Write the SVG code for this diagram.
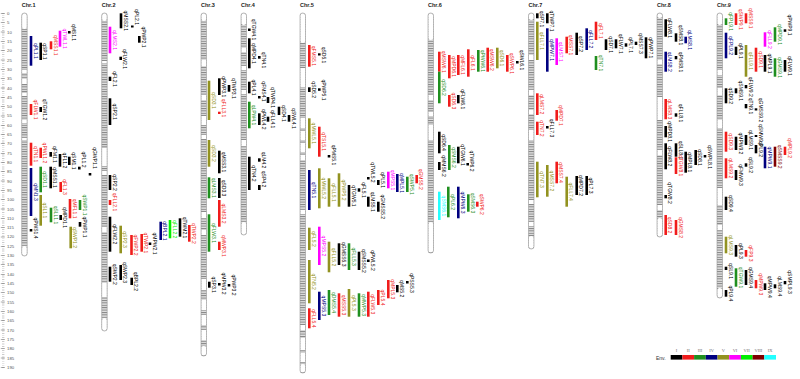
<svg xmlns="http://www.w3.org/2000/svg" width="800" height="379" viewBox="0 0 800 379">
<defs>
<pattern id="bd" width="6" height="2.4" patternUnits="userSpaceOnUse"><rect width="6" height="2.4" fill="#fff"/><rect width="6" height="1.1" fill="#808080"/><rect y="1.5" width="6" height="0.5" fill="#c4c4c4"/></pattern>
</defs>
<style>
.ct{font:bold 5.5px "Liberation Sans",Arial,sans-serif;fill:#222}
.ax{font:4.3px "Liberation Sans",Arial,sans-serif;fill:#555}
.chr .b{fill:url(#bd)}
.chr .w{fill:#fff}
.chr .o{fill:none;stroke:#999;stroke-width:0.6}
.q path{stroke-width:2.6;fill:none}
.q text{font:5px "Liberation Sans",Arial,sans-serif;text-anchor:middle}
.k path{stroke:#000}.k text{fill:#000}
.r path{stroke:#f01c1c}.r text{fill:#f01c1c}
.g path{stroke:#1f8f1f}.g text{fill:#1f8f1f}
.n path{stroke:#00007f}.n text{fill:#00007f}
.o path{stroke:#929220}.o text{fill:#929220}
.m path{stroke:#f0f}.m text{fill:#f0f}
.l path{stroke:#0e0}.l text{fill:#0e0}
.d path{stroke:#800000}.d text{fill:#800000}
.c path{stroke:#2ff}.c text{fill:#2ff}
.lg{font:4.5px "Liberation Serif","Times New Roman",serif;fill:#777;text-anchor:middle}
</style>
<rect width="800" height="379" fill="#fff"/>

<g id="axis">
<line x1="3.2" y1="13.325" x2="3.2" y2="367.5" stroke="#999" stroke-width="2.4" stroke-dasharray="0.35 1.512"/>
<line x1="2.8" y1="13.25" x2="2.8" y2="367.6" stroke="#666" stroke-width="4" stroke-dasharray="0.5 8.81"/>
<g class="ax">
<text x="7" y="15">0</text><text x="7" y="24.3">5</text><text x="7" y="33.6">10</text><text x="7" y="42.9">15</text><text x="7" y="52.2">20</text><text x="7" y="61.5">25</text><text x="7" y="70.9">30</text><text x="7" y="80.2">35</text><text x="7" y="89.5">40</text><text x="7" y="98.8">45</text><text x="7" y="108.1">50</text><text x="7" y="117.4">55</text><text x="7" y="126.7">60</text><text x="7" y="136">65</text><text x="7" y="145.3">70</text><text x="7" y="154.6">75</text><text x="7" y="164">80</text><text x="7" y="173.3">85</text><text x="7" y="182.6">90</text><text x="7" y="191.9">95</text><text x="7" y="201.2">100</text><text x="7" y="210.5">105</text><text x="7" y="219.8">110</text><text x="7" y="229.1">115</text><text x="7" y="238.4">120</text><text x="7" y="247.7">125</text><text x="7" y="257.1">130</text><text x="7" y="266.4">135</text><text x="7" y="275.7">140</text><text x="7" y="285">145</text><text x="7" y="294.3">150</text><text x="7" y="303.6">155</text><text x="7" y="312.9">160</text><text x="7" y="322.2">165</text><text x="7" y="331.5">170</text><text x="7" y="340.8">175</text><text x="7" y="350.2">180</text><text x="7" y="359.5">185</text><text x="7" y="368.8">190</text>
</g>
</g>

<g id="chr1" class="chr"><text class="ct" x="21.7" y="7">Chr.1</text>
<rect class="b" x="21.7" y="13" width="5.5" height="243" rx="2.6"/>
<rect class="w" x="22" y="13.5" width="4.9" height="15.5" rx="2.3"/><rect class="w" x="22" y="70" width="4.9" height="3"/><rect class="w" x="22" y="79" width="4.9" height="5"/><rect class="w" x="22" y="93" width="4.9" height="3"/><rect class="w" x="22" y="120" width="4.9" height="3"/><rect class="w" x="22" y="138" width="4.9" height="2"/><rect class="w" x="22" y="246" width="4.9" height="9.5" rx="2.3"/>
<rect class="o" x="21.7" y="13" width="5.5" height="243" rx="2.6"/></g>

<g id="chr2" class="chr"><text class="ct" x="101.7" y="7">Chr.2</text>
<rect class="b" x="101.7" y="13" width="5.5" height="318" rx="2.6"/>
<rect class="w" x="102" y="13.5" width="4.9" height="7.5" rx="2.3"/><rect class="w" x="102" y="61" width="4.9" height="2"/><rect class="w" x="102" y="148" width="4.9" height="18"/><rect class="w" x="102" y="171" width="4.9" height="4"/><rect class="w" x="102" y="227" width="4.9" height="5"/><rect class="w" x="102" y="283" width="4.9" height="14"/><rect class="w" x="102" y="318" width="4.9" height="12.5" rx="2.3"/>
<rect class="o" x="101.7" y="13" width="5.5" height="318" rx="2.6"/></g>

<g id="chr3" class="chr"><text class="ct" x="201" y="7">Chr.3</text>
<rect class="b" x="201" y="13" width="5.5" height="343" rx="2.6"/>
<rect class="w" x="201.3" y="13.5" width="4.9" height="7.5" rx="2.3"/><rect class="w" x="201.3" y="60" width="4.9" height="6"/><rect class="w" x="201.3" y="95" width="4.9" height="5"/><rect class="w" x="201.3" y="116" width="4.9" height="9"/><rect class="w" x="201.3" y="135" width="4.9" height="4"/><rect class="w" x="201.3" y="212" width="4.9" height="6"/><rect class="w" x="201.3" y="230" width="4.9" height="5"/><rect class="w" x="201.3" y="279" width="4.9" height="11"/><rect class="w" x="201.3" y="300" width="4.9" height="10"/><rect class="w" x="201.3" y="315" width="4.9" height="10"/><rect class="w" x="201.3" y="330" width="4.9" height="10"/><rect class="w" x="201.3" y="346" width="4.9" height="9.5" rx="2.3"/>
<rect class="o" x="201" y="13" width="5.5" height="343" rx="2.6"/></g>

<g id="chr4" class="chr"><text class="ct" x="241" y="7">Chr.4</text>
<rect class="b" x="241" y="13" width="5.5" height="222" rx="2.6"/>
<rect class="w" x="241.3" y="13.5" width="4.9" height="11.5" rx="2.3"/><rect class="w" x="241.3" y="48" width="4.9" height="4"/><rect class="w" x="241.3" y="66" width="4.9" height="4"/><rect class="w" x="241.3" y="90" width="4.9" height="4"/><rect class="w" x="241.3" y="140" width="4.9" height="6"/><rect class="w" x="241.3" y="222" width="4.9" height="12.5" rx="2.3"/>
<rect class="o" x="241" y="13" width="5.5" height="222" rx="2.6"/></g>

<g id="chr5" class="chr"><text class="ct" x="300" y="7">Chr.5</text>
<rect class="b" x="300" y="13" width="5.5" height="360" rx="2.6"/>
<rect class="w" x="300.3" y="13.5" width="4.9" height="29.5" rx="2.3"/><rect class="w" x="300.3" y="68" width="4.9" height="19"/><rect class="w" x="300.3" y="118" width="4.9" height="10"/><rect class="w" x="300.3" y="131" width="4.9" height="9"/><rect class="w" x="300.3" y="143" width="4.9" height="9"/><rect class="w" x="300.3" y="155" width="4.9" height="5"/><rect class="w" x="300.3" y="210" width="4.9" height="4"/><rect class="w" x="300.3" y="325" width="4.9" height="5"/><rect class="w" x="300.3" y="338" width="4.9" height="12"/><rect class="w" x="300.3" y="353" width="4.9" height="9"/><rect class="w" x="300.3" y="364" width="4.9" height="8.5" rx="2.3"/>
<rect class="o" x="300" y="13" width="5.5" height="360" rx="2.6"/></g>

<g id="chr6" class="chr"><text class="ct" x="428" y="7">Chr.6</text>
<rect class="b" x="428" y="13" width="5.5" height="240" rx="2.6"/>
<rect class="w" x="428.3" y="13.5" width="4.9" height="26.5" rx="2.3"/><rect class="w" x="428.3" y="95" width="4.9" height="5"/><rect class="w" x="428.3" y="112" width="4.9" height="4"/><rect class="w" x="428.3" y="125" width="4.9" height="15"/><rect class="w" x="428.3" y="222" width="4.9" height="30.5" rx="2.3"/>
<rect class="o" x="428" y="13" width="5.5" height="240" rx="2.6"/></g>

<g id="chr7" class="chr"><text class="ct" x="528.5" y="7">Chr.7</text>
<rect class="b" x="528.5" y="13" width="5.5" height="236" rx="2.6"/>
<rect class="w" x="528.8" y="13.5" width="4.9" height="6.5" rx="2.3"/><rect class="w" x="528.8" y="55" width="4.9" height="5"/><rect class="w" x="528.8" y="90" width="4.9" height="5"/><rect class="w" x="528.8" y="110" width="4.9" height="4"/><rect class="w" x="528.8" y="130" width="4.9" height="10"/><rect class="w" x="528.8" y="200" width="4.9" height="4"/><rect class="w" x="528.8" y="222" width="4.9" height="4"/><rect class="w" x="528.8" y="236" width="4.9" height="12.5" rx="2.3"/>
<rect class="o" x="528.5" y="13" width="5.5" height="236" rx="2.6"/></g>

<g id="chr8" class="chr"><text class="ct" x="657" y="7">Chr.8</text>
<rect class="b" x="657" y="13" width="5.5" height="224" rx="2.6"/>
<rect class="w" x="657.3" y="13.5" width="4.9" height="4.5" rx="2.3"/><rect class="w" x="657.3" y="60" width="4.9" height="4"/><rect class="w" x="657.3" y="97" width="4.9" height="23"/><rect class="w" x="657.3" y="150" width="4.9" height="5"/><rect class="w" x="657.3" y="205" width="4.9" height="5"/><rect class="w" x="657.3" y="218" width="4.9" height="18.5" rx="2.3"/>
<rect class="o" x="657" y="13" width="5.5" height="224" rx="2.6"/></g>

<g id="chr9" class="chr"><text class="ct" x="717" y="7">Chr.9</text>
<rect class="b" x="717" y="13" width="5.5" height="285" rx="2.6"/>
<rect class="w" x="717.3" y="13.5" width="4.9" height="11.5" rx="2.3"/><rect class="w" x="717.3" y="70" width="4.9" height="5"/><rect class="w" x="717.3" y="88" width="4.9" height="7"/><rect class="w" x="717.3" y="120" width="4.9" height="8"/><rect class="w" x="717.3" y="188" width="4.9" height="17"/><rect class="w" x="717.3" y="225" width="4.9" height="5"/><rect class="w" x="717.3" y="288" width="4.9" height="9.5" rx="2.3"/>
<rect class="o" x="717" y="13" width="5.5" height="285" rx="2.6"/></g>

<g id="qtls">
<g id="q1" class="q n"><path d="M31 36V65.7"/><text transform="translate(33.5 50.9)rotate(90)">qPL1.1</text></g>
<g id="q2" class="q k"><path d="M40.7 42.7V60"/><text transform="translate(43.2 51.4)rotate(90)">qSP1.1</text></g>
<g id="q3" class="q r"><path d="M51 41.3V49.3"/><text transform="translate(53.5 45.3)rotate(90)">qMSS1.1</text></g>
<g id="q4" class="q m"><path d="M60 30.7V46.7"/><text transform="translate(62.5 38.7)rotate(90)">qTWL1.1</text></g>
<g id="q5" class="q k"><path d="M69.3 31V33.5"/><text transform="translate(71.8 32.5)rotate(90)">qMS1.1</text></g>
<g id="q6" class="q r"><path d="M31 104V115"/><text transform="translate(33.5 109.5)rotate(90)">qFLW1.1</text></g>
<g id="q7" class="q k"><path d="M40.7 107V112"/><text transform="translate(43.2 109.5)rotate(90)">qTGW1.2</text></g>
<g id="q8" class="q r"><path d="M31 142.7V165.7"/><text transform="translate(33.5 154.2)rotate(90)">qTN1.1</text></g>
<g id="q9" class="q r"><path d="M40.7 147.7V158"/><text transform="translate(43.2 152.9)rotate(90)">qPWL1.2</text></g>
<g id="q10" class="q k"><path d="M50.7 152V156.7"/><text transform="translate(53.2 154.4)rotate(90)">qFM1.1</text></g>
<g id="q11" class="q k"><path d="M60 154V166.7"/><text transform="translate(62.5 160.4)rotate(90)">qFL1.2</text></g>
<g id="q12" class="q k"><path d="M69.3 156.7V165"/><text transform="translate(71.8 160.9)rotate(90)">qSM1.1</text></g>
<g id="q13" class="q k"><path d="M79.3 166.7V169.5"/><text transform="translate(81.8 159.5)rotate(90)">qPL1.2</text></g>
<g id="q14" class="q k"><path d="M90 173V175.5"/><text transform="translate(92.5 158)rotate(90)">qGWP1.1</text></g>
<g id="q15" class="q n"><path d="M31 168V216"/><text transform="translate(33.5 192)rotate(90)">qMN1.3</text></g>
<g id="q16" class="q g"><path d="M40.7 166.7V192.3"/><text transform="translate(43.2 179.5)rotate(90)">qSD1.1</text></g>
<g id="q17" class="q o"><path d="M40.7 195V225.7"/><text transform="translate(43.2 210.4)rotate(90)">qSL1.1</text></g>
<g id="q18" class="q k"><path d="M50.7 166.7V188.3"/><text transform="translate(53.2 177.5)rotate(90)">qMSS1.1</text></g>
<g id="q19" class="q r"><path d="M60.7 182V192"/><text transform="translate(63.2 187)rotate(90)">qFL1.3</text></g>
<g id="q20" class="q g"><path d="M51 207.7V222.3"/><text transform="translate(53.5 215)rotate(90)">qSLL1.1</text></g>
<g id="q21" class="q r"><path d="M70 199V218.3"/><text transform="translate(72.5 208.7)rotate(90)">qMFL1.1</text></g>
<g id="q22" class="q k"><path d="M60.7 215V220"/><text transform="translate(63.2 217.5)rotate(90)">qMPD1.1</text></g>
<g id="q23" class="q g"><path d="M80 200V210"/><text transform="translate(82.5 205)rotate(90)">qSWP1.1</text></g>
<g id="q24" class="q k"><path d="M80 222V226.7"/><text transform="translate(82.5 227)rotate(90)">qPWP1.1</text></g>
<g id="q25" class="q o"><path d="M70.7 226.7V248.3"/><text transform="translate(73.2 237.5)rotate(90)">qSWP1.2</text></g>
<g id="q26" class="q k"><path d="M31 229V231.5"/><text transform="translate(33.5 228)rotate(90)">qPWS1.4</text></g>

<g id="q27" class="q k"><path d="M121 13.3V28.3"/><text transform="translate(123.5 20.8)rotate(90)">qMSS2.1</text></g>
<g id="q28" class="q k"><path d="M132.3 25.5V27.5"/><text transform="translate(134.8 17)rotate(90)">qPL2.1</text></g>
<g id="q29" class="q k"><path d="M139.3 36V42.7"/><text transform="translate(141.8 37)rotate(90)">qPWP2.1</text></g>
<g id="q30" class="q m"><path d="M110 26.7V53.3"/><text transform="translate(112.5 40)rotate(90)">qLMS2.1</text></g>
<g id="q31" class="q k"><path d="M120.7 56.7V60"/><text transform="translate(123.2 59)rotate(90)">qFLW2.1</text></g>
<g id="q32" class="q k"><path d="M110 76.7V81"/><text transform="translate(112.5 79)rotate(90)">qFL2.1</text></g>
<g id="q33" class="q k"><path d="M110 98.3V125"/><text transform="translate(112.5 111.7)rotate(90)">qSP2.1</text></g>
<g id="q34" class="q k"><path d="M110 175V190"/><text transform="translate(112.5 182.5)rotate(90)">qSP2.2</text></g>
<g id="q35" class="q r"><path d="M110 200V205"/><text transform="translate(112.5 202)rotate(90)">qFLL2.1</text></g>
<g id="q36" class="q k"><path d="M110 216.7V251.7"/><text transform="translate(112.5 234.2)rotate(90)">qFLW2.2</text></g>
<g id="q37" class="q o"><path d="M120.7 225.7V253.3"/><text transform="translate(123.2 239.5)rotate(90)">qSP2.3</text></g>
<g id="q38" class="q r"><path d="M131.5 235V255"/><text transform="translate(134 245)rotate(90)">qFWP2.2</text></g>
<g id="q39" class="q r"><path d="M141.7 234V251.7"/><text transform="translate(144.2 242.9)rotate(90)">qTWP2.1</text></g>
<g id="q40" class="q k"><path d="M150 242.5V245"/><text transform="translate(152.5 243.5)rotate(90)">qMPW2.1</text></g>
<g id="q41" class="q n"><path d="M160.7 221.7V240"/><text transform="translate(163.2 230.9)rotate(90)">qBPL2.1</text></g>
<g id="q42" class="q l"><path d="M170 220V238.3"/><text transform="translate(172.5 229.2)rotate(90)">qFLL2.2</text></g>
<g id="q43" class="q k"><path d="M180 218.3V236.7"/><text transform="translate(182.5 227.5)rotate(90)">qTWM2.1</text></g>
<g id="q44" class="q r"><path d="M189.3 225V241.7"/><text transform="translate(191.8 233.4)rotate(90)">qTWP2.2</text></g>
<g id="q45" class="q k"><path d="M110 266.7V281.7"/><text transform="translate(112.5 274.2)rotate(90)">qSWP2.2</text></g>
<g id="q46" class="q k"><path d="M120.7 265V280"/><text transform="translate(123.2 272.5)rotate(90)">qSWP2.3</text></g>
<g id="q47" class="q k"><path d="M131.7 277.7V285"/><text transform="translate(134.2 281.4)rotate(90)">qBPL2.2</text></g>

<g id="q48" class="q o"><path d="M209 80.7V120"/><text transform="translate(211.5 100.4)rotate(90)">qSD3.1</text></g>
<g id="q49" class="q k"><path d="M219.3 78.3V95"/><text transform="translate(221.8 86.7)rotate(90)">qPWP3.1</text></g>
<g id="q50" class="q k"><path d="M229 85V91.7"/><text transform="translate(231.5 88.4)rotate(90)">qTWP3.1</text></g>
<g id="q51" class="q r"><path d="M219.3 111.7V114"/><text transform="translate(221.8 108)rotate(90)">qFLL3.1</text></g>
<g id="q52" class="q o"><path d="M209 140V166.7"/><text transform="translate(211.5 153.4)rotate(90)">qSD3.2</text></g>
<g id="q53" class="q k"><path d="M219.3 150.7V173.3"/><text transform="translate(221.8 162)rotate(90)">qMSS3.1</text></g>
<g id="q54" class="q g"><path d="M209 177.3V198.3"/><text transform="translate(211.5 187.8)rotate(90)">qLMS3.1</text></g>
<g id="q55" class="q k"><path d="M219.3 178V198"/><text transform="translate(221.8 188)rotate(90)">qSD3.3</text></g>
<g id="q56" class="q r"><path d="M219.3 200V226.7"/><text transform="translate(221.8 213.4)rotate(90)">qLMS3.2</text></g>
<g id="q57" class="q g"><path d="M209 214.3V251.7"/><text transform="translate(211.5 233)rotate(90)">qFLW3.1</text></g>
<g id="q58" class="q r"><path d="M219.3 241.7V250"/><text transform="translate(221.8 245.9)rotate(90)">qMWP3.1</text></g>
<g id="q59" class="q k"><path d="M209.3 281.7V287.7"/><text transform="translate(211.8 284.7)rotate(90)">qSP3.1</text></g>
<g id="q60" class="q k"><path d="M219.3 283V285.5"/><text transform="translate(221.8 283.5)rotate(90)">qMPW3.2</text></g>
<g id="q61" class="q k"><path d="M229 284V286.5"/><text transform="translate(231.5 285)rotate(90)">qPWP3.2</text></g>

<g id="q62" class="q k"><path d="M249.3 28.5V31"/><text transform="translate(251.8 29.5)rotate(90)">qTGW4.1</text></g>
<g id="q63" class="q k"><path d="M249.3 38.3V68.3"/><text transform="translate(251.8 53.3)rotate(90)">qMPD4.1</text></g>
<g id="q64" class="q k"><path d="M259.3 56V58.7"/><text transform="translate(261.8 60)rotate(90)">qTN4.1</text></g>
<g id="q65" class="q k"><path d="M249.3 81.7V93.3"/><text transform="translate(251.8 87.5)rotate(90)">qPL4.1</text></g>
<g id="q66" class="q k"><path d="M259.3 96V98.5"/><text transform="translate(261.8 91.5)rotate(90)">qFMS4.1</text></g>
<g id="q67" class="q k"><path d="M268 97V103"/><text transform="translate(270.5 97.5)rotate(90)">qTWP4.1</text></g>
<g id="q68" class="q k"><path d="M268 116.7V121.7"/><text transform="translate(270.5 119.2)rotate(90)">qFLL4.1</text></g>
<g id="q69" class="q k"><path d="M279 106.7V115"/><text transform="translate(281.5 113.4)rotate(90)">qSD4.1</text></g>
<g id="q70" class="q k"><path d="M289 115V121.7"/><text transform="translate(291.5 118.4)rotate(90)">qSWL4.1</text></g>
<g id="q71" class="q g"><path d="M249.3 101.7V128.3"/><text transform="translate(251.8 115)rotate(90)">qLPW4.1</text></g>
<g id="q72" class="q k"><path d="M259.3 113.3V125"/><text transform="translate(261.8 119.2)rotate(90)">qPWL4.2</text></g>
<g id="q73" class="q k"><path d="M259.3 158.3V161.7"/><text transform="translate(261.8 160)rotate(90)">qLM4.2</text></g>
<g id="q74" class="q k"><path d="M249.3 156.7V190"/><text transform="translate(251.8 173.4)rotate(90)">qTN4.2</text></g>
<g id="q75" class="q k"><path d="M259.3 185V190"/><text transform="translate(261.8 179)rotate(90)">qSP4.2</text></g>

<g id="q76" class="q r"><path d="M309.3 45V66.7"/><text transform="translate(311.8 55.9)rotate(90)">qFMS5.1</text></g>
<g id="q77" class="q k"><path d="M319.3 53.3V55.5"/><text transform="translate(321.8 55)rotate(90)">qSD5.1</text></g>
<g id="q78" class="q k"><path d="M309.3 87.3V92"/><text transform="translate(311.8 89.7)rotate(90)">qSD5.2</text></g>
<g id="q79" class="q k"><path d="M319.3 88.3V90.8"/><text transform="translate(321.8 90)rotate(90)">qPWP5.1</text></g>
<g id="q80" class="q o"><path d="M309.3 118.3V148.3"/><text transform="translate(311.8 133.3)rotate(90)">qMWL5.1</text></g>
<g id="q81" class="q r"><path d="M319.3 126.7V156.7"/><text transform="translate(321.8 141.7)rotate(90)">qTSL5.1</text></g>
<g id="q82" class="q k"><path d="M329 155V157.5"/><text transform="translate(331.5 155)rotate(90)">qPMS5.1</text></g>
<g id="q83" class="q n"><path d="M309.3 170V210"/><text transform="translate(311.8 190)rotate(90)">qTN5.1</text></g>
<g id="q84" class="q o"><path d="M319.3 168.3V208.3"/><text transform="translate(321.8 188.3)rotate(90)">qMWL5.2</text></g>
<g id="q85" class="q o"><path d="M329 178.3V206.7"/><text transform="translate(331.5 192.5)rotate(90)">qFLL5.1</text></g>
<g id="q86" class="q o"><path d="M339 173.3V206.7"/><text transform="translate(341.5 190)rotate(90)">qPWP5.2</text></g>
<g id="q87" class="q k"><path d="M349 185V206.7"/><text transform="translate(351.5 195.9)rotate(90)">qTGW5.1</text></g>
<g id="q88" class="q k"><path d="M359 188.3V191.7"/><text transform="translate(361.5 190)rotate(90)">qFL5.1</text></g>
<g id="q89" class="q k"><path d="M368.3 177V179.5"/><text transform="translate(370.8 172.5)rotate(90)">qTWL5.2</text></g>
<g id="q90" class="q k"><path d="M368.3 196.7V206.7"/><text transform="translate(370.8 201.7)rotate(90)">qLMS5.1</text></g>
<g id="q91" class="q k"><path d="M378.3 180V185"/><text transform="translate(380.8 180)rotate(90)">qPL5.1</text></g>
<g id="q92" class="q k"><path d="M378.3 201.7V211.7"/><text transform="translate(380.8 206.7)rotate(90)">qGMSS5.2</text></g>
<g id="q93" class="q m"><path d="M388.3 171.7V188.3"/><text transform="translate(390.8 180)rotate(90)">qMPS5.1</text></g>
<g id="q94" class="q n"><path d="M397.3 174V192"/><text transform="translate(399.8 183)rotate(90)">qMPL5.1</text></g>
<g id="q95" class="q g"><path d="M407.3 176.7V192"/><text transform="translate(409.8 184.3)rotate(90)">qSWP5.1</text></g>
<g id="q96" class="q r"><path d="M416.7 175V183.3"/><text transform="translate(419.2 179.2)rotate(90)">qGMS5.2</text></g>
<g id="q97" class="q o"><path d="M309.3 227.7V250"/><text transform="translate(311.8 238.9)rotate(90)">qFL5.2</text></g>
<g id="q98" class="q m"><path d="M319.3 226.7V265"/><text transform="translate(321.8 245.9)rotate(90)">qMPS5.2</text></g>
<g id="q99" class="q o"><path d="M329 241.7V272.3"/><text transform="translate(331.5 257)rotate(90)">qFLL5.2</text></g>
<g id="q100" class="q k"><path d="M339 243.3V265"/><text transform="translate(341.5 254.2)rotate(90)">qGMSS5.3</text></g>
<g id="q101" class="q g"><path d="M349 243.3V270"/><text transform="translate(351.5 256.7)rotate(90)">qFLL5.3</text></g>
<g id="q102" class="q k"><path d="M359 251.7V270"/><text transform="translate(361.5 260.9)rotate(90)">qSMSS5.2</text></g>
<g id="q103" class="q k"><path d="M368.3 259.5V262"/><text transform="translate(370.8 260.5)rotate(90)">qPWL5.2</text></g>
<g id="q104" class="q o"><path d="M309.3 260V303.3"/><text transform="translate(311.8 281.7)rotate(90)">qTN5.2</text></g>
<g id="q105" class="q r"><path d="M309.3 308.3V328.3"/><text transform="translate(311.8 318.3)rotate(90)">qFLL5.4</text></g>
<g id="q106" class="q n"><path d="M319.3 291.7V320"/><text transform="translate(321.8 305.9)rotate(90)">qMPS5.3</text></g>
<g id="q107" class="q g"><path d="M329 290V315"/><text transform="translate(331.5 302.5)rotate(90)">qDMS5.4</text></g>
<g id="q108" class="q r"><path d="M339 293.3V316.7"/><text transform="translate(341.5 305)rotate(90)">qMSS5.3</text></g>
<g id="q109" class="q o"><path d="M349 289V316.7"/><text transform="translate(351.5 302.9)rotate(90)">qPL5.3</text></g>
<g id="q110" class="q g"><path d="M359 293.3V316.7"/><text transform="translate(361.5 305)rotate(90)">qMWP5.3</text></g>
<g id="q111" class="q r"><path d="M368.3 291.7V316.7"/><text transform="translate(370.8 304.2)rotate(90)">qFLW5.3</text></g>
<g id="q112" class="q r"><path d="M378.3 290V305"/><text transform="translate(380.8 297.5)rotate(90)">qPL5.4</text></g>
<g id="q113" class="q r"><path d="M388.3 280V298.3"/><text transform="translate(390.8 289.2)rotate(90)">qMPL5.3</text></g>
<g id="q114" class="q k"><path d="M397.3 285V292.3"/><text transform="translate(399.8 288.7)rotate(90)">qMS5.2</text></g>
<g id="q115" class="q k"><path d="M407.3 281V283.5"/><text transform="translate(409.8 283)rotate(90)">qPSS5.3</text></g>

<g id="q116" class="q r"><path d="M439.3 51.7V71.7"/><text transform="translate(441.8 61.7)rotate(90)">qMSW6.1</text></g>
<g id="q117" class="q r"><path d="M449.3 55V78.3"/><text transform="translate(451.8 66.7)rotate(90)">qMPD6.1</text></g>
<g id="q118" class="q r"><path d="M458.3 55V75"/><text transform="translate(460.8 65)rotate(90)">qMFL6.1</text></g>
<g id="q119" class="q r"><path d="M468.3 49.3V76.7"/><text transform="translate(470.8 63)rotate(90)">qFL6.1</text></g>
<g id="q120" class="q g"><path d="M478.3 50V71.7"/><text transform="translate(480.8 60.9)rotate(90)">qPWW6.1</text></g>
<g id="q121" class="q r"><path d="M487.7 47.7V71.7"/><text transform="translate(490.2 59.7)rotate(90)">qMSW6.2</text></g>
<g id="q122" class="q o"><path d="M497.3 47.7V68.3"/><text transform="translate(499.8 58)rotate(90)">qSD6.1</text></g>
<g id="q123" class="q r"><path d="M507.3 55V71.7"/><text transform="translate(509.8 63.4)rotate(90)">qSWP6.1</text></g>
<g id="q124" class="q k"><path d="M517.3 61V63.5"/><text transform="translate(519.8 60)rotate(90)">qSWL6.1</text></g>
<g id="q125" class="q g"><path d="M439.3 71.7V103.3"/><text transform="translate(441.8 87.5)rotate(90)">qSD6.2</text></g>
<g id="q126" class="q r"><path d="M449.3 95V106.7"/><text transform="translate(451.8 100.9)rotate(90)">qSD6.3</text></g>
<g id="q127" class="q k"><path d="M458.3 95V103.3"/><text transform="translate(460.8 99.2)rotate(90)">qFLW6.1</text></g>
<g id="q128" class="q k"><path d="M439.3 131.7V153.3"/><text transform="translate(441.8 142.5)rotate(90)">qSD6.4</text></g>
<g id="q129" class="q g"><path d="M449.3 145V170"/><text transform="translate(451.8 157.5)rotate(90)">qSMS6.2</text></g>
<g id="q130" class="q k"><path d="M458.3 146.7V163.3"/><text transform="translate(460.8 155)rotate(90)">qTGW6.1</text></g>
<g id="q131" class="q k"><path d="M467.7 163V165.5"/><text transform="translate(470.2 161)rotate(90)">qTWP6.2</text></g>
<g id="q132" class="q k"><path d="M439.3 162V170"/><text transform="translate(441.8 166)rotate(90)">qMMS6.2</text></g>
<g id="q133" class="q c"><path d="M439.3 191.7V220"/><text transform="translate(441.8 205.9)rotate(90)">qSMS6.1</text></g>
<g id="q134" class="q g"><path d="M448.3 186.7V217.3"/><text transform="translate(450.8 202)rotate(90)">qPL6.2</text></g>
<g id="q135" class="q n"><path d="M458.3 186.7V218.3"/><text transform="translate(460.8 202.5)rotate(90)">qMPW6.3</text></g>
<g id="q136" class="q g"><path d="M468.3 194.3V211.7"/><text transform="translate(470.8 203)rotate(90)">qSMS6.3</text></g>
<g id="q137" class="q r"><path d="M477.3 201.7V206.7"/><text transform="translate(479.8 204.2)rotate(90)">qSWP6.2</text></g>

<g id="q138" class="q k"><path d="M537.3 13.3V18.3"/><text transform="translate(539.8 19)rotate(90)">qSP7.1</text></g>
<g id="q139" class="q k"><path d="M547.3 13.3V23.3"/><text transform="translate(549.8 21)rotate(90)">qTWP7.1</text></g>
<g id="q140" class="q o"><path d="M537.3 21.7V60"/><text transform="translate(539.8 40.9)rotate(90)">qFLL7.1</text></g>
<g id="q141" class="q n"><path d="M547.3 28.3V71.7"/><text transform="translate(549.8 50)rotate(90)">qMPW7.1</text></g>
<g id="q142" class="q m"><path d="M556.7 38.3V65"/><text transform="translate(559.2 51.7)rotate(90)">qLMS7.1</text></g>
<g id="q143" class="q r"><path d="M566.7 36.7V53.3"/><text transform="translate(569.2 45)rotate(90)">qMSS7.1</text></g>
<g id="q144" class="q k"><path d="M576.7 32.7V55"/><text transform="translate(579.2 43.9)rotate(90)">qSP7.2</text></g>
<g id="q145" class="q n"><path d="M586.7 28.3V50"/><text transform="translate(589.2 39.2)rotate(90)">qFLL7.2</text></g>
<g id="q146" class="q r"><path d="M596 21.7V40"/><text transform="translate(598.5 30.9)rotate(90)">qFL7.1</text></g>
<g id="q147" class="q k"><path d="M606 39.3V50"/><text transform="translate(608.5 44.7)rotate(90)">qSD7.1</text></g>
<g id="q148" class="q k"><path d="M616 39.3V48.3"/><text transform="translate(618.5 43.8)rotate(90)">qFLW7.1</text></g>
<g id="q149" class="q k"><path d="M626 43.3V46.7"/><text transform="translate(628.5 45)rotate(90)">qPL7.1</text></g>
<g id="q150" class="q k"><path d="M636 41.7V45"/><text transform="translate(638.5 43.4)rotate(90)">qMSS7.3</text></g>
<g id="q151" class="q k"><path d="M646 37.3V58.3"/><text transform="translate(648.5 47.8)rotate(90)">qPWP7.1</text></g>
<g id="q152" class="q g"><path d="M596 56V70"/><text transform="translate(598.5 63)rotate(90)">qTN7.1</text></g>
<g id="q153" class="q r"><path d="M537.3 93.3V115"/><text transform="translate(539.8 104.2)rotate(90)">qLMS7.2</text></g>
<g id="q154" class="q r"><path d="M556.7 110V120.7"/><text transform="translate(559.2 115.4)rotate(90)">qMPD7.1</text></g>
<g id="q155" class="q r"><path d="M537.3 121.7V135"/><text transform="translate(539.8 128.4)rotate(90)">qTN7.2</text></g>
<g id="q156" class="q k"><path d="M547.3 126V128.5"/><text transform="translate(549.8 128)rotate(90)">qFLL7.3</text></g>
<g id="q157" class="q o"><path d="M537.3 161.7V197.3"/><text transform="translate(539.8 179.5)rotate(90)">qTN7.3</text></g>
<g id="q158" class="q o"><path d="M547.3 165V196.7"/><text transform="translate(549.8 180.9)rotate(90)">qMSS7.2</text></g>
<g id="q159" class="q r"><path d="M556.7 161.7V183.3"/><text transform="translate(559.2 172.5)rotate(90)">qMSS7.4</text></g>
<g id="q160" class="q o"><path d="M566.7 176.7V206.7"/><text transform="translate(569.2 191.7)rotate(90)">qFLL7.4</text></g>
<g id="q161" class="q k"><path d="M576.7 176V195"/><text transform="translate(579.2 185.5)rotate(90)">qMPD7.2</text></g>
<g id="q162" class="q k"><path d="M586.7 176V195"/><text transform="translate(589.2 185.5)rotate(90)">qPL7.3</text></g>

<g id="q163" class="q k"><path d="M665.7 19.3V36.7"/><text transform="translate(668.2 28)rotate(90)">qFLW8.1</text></g>
<g id="q164" class="q k"><path d="M676 33.3V41.7"/><text transform="translate(678.5 35)rotate(90)">qSMS8.1</text></g>
<g id="q165" class="q n"><path d="M685.7 36.7V43.3"/><text transform="translate(688.2 40)rotate(90)">qLMS8.1</text></g>
<g id="q166" class="q n"><path d="M665.7 51.7V71.7"/><text transform="translate(668.2 61.7)rotate(90)">qLMS8.2</text></g>
<g id="q167" class="q k"><path d="M676 56V59.3"/><text transform="translate(678.5 62)rotate(90)">qPMS8.1</text></g>
<g id="q168" class="q r"><path d="M665.7 99V119.3"/><text transform="translate(668.2 109.2)rotate(90)">qLMS8.3</text></g>
<g id="q169" class="q k"><path d="M676 113.3V116.7"/><text transform="translate(678.5 113)rotate(90)">qFLL8.1</text></g>
<g id="q170" class="q k"><path d="M665.7 126V137.3"/><text transform="translate(668.2 131.7)rotate(90)">qMPD8.1</text></g>
<g id="q171" class="q k"><path d="M665.7 143.3V169.3"/><text transform="translate(668.2 156.3)rotate(90)">qFLW8.2</text></g>
<g id="q172" class="q k"><path d="M676 143.3V156.7"/><text transform="translate(678.5 150)rotate(90)">qSLL8.1</text></g>
<g id="q173" class="q r"><path d="M676 157.3V174"/><text transform="translate(678.5 165.7)rotate(90)">qTGW8.1</text></g>
<g id="q174" class="q k"><path d="M685.7 151.7V172.7"/><text transform="translate(688.2 162.2)rotate(90)">qMPL8.1</text></g>
<g id="q175" class="q k"><path d="M695.7 150V165"/><text transform="translate(698.2 157.5)rotate(90)">qSD8.1</text></g>
<g id="q176" class="q k"><path d="M705 155V157.5"/><text transform="translate(707.5 157)rotate(90)">qSWPL8.1</text></g>
<g id="q177" class="q k"><path d="M665.7 195V198.3"/><text transform="translate(668.2 193)rotate(90)">qTGW8.2</text></g>
<g id="q178" class="q r"><path d="M665.7 215V235"/><text transform="translate(668.2 225)rotate(90)">qSD8.2</text></g>
<g id="q179" class="q r"><path d="M676 220V235"/><text transform="translate(678.5 227.5)rotate(90)">qGMS8.2</text></g>

<g id="q180" class="q g"><path d="M726 18.3V25"/><text transform="translate(728.5 21.7)rotate(90)">qFPL9.1</text></g>
<g id="q181" class="q r"><path d="M736 13.3V25"/><text transform="translate(738.5 19.2)rotate(90)">qSWP9.1</text></g>
<g id="q182" class="q r"><path d="M746 13.3V23.3"/><text transform="translate(748.5 18.3)rotate(90)">qMSS9.1</text></g>
<g id="q183" class="q n"><path d="M726 32.7V58.3"/><text transform="translate(728.5 45.5)rotate(90)">qFPL9.2</text></g>
<g id="q184" class="q k"><path d="M736 46.7V55"/><text transform="translate(738.5 50.9)rotate(90)">qPL9.1</text></g>
<g id="q185" class="q o"><path d="M746 45V76.7"/><text transform="translate(748.5 60.9)rotate(90)">qFLL9.1</text></g>
<g id="q186" class="q r"><path d="M756 47.7V71.7"/><text transform="translate(758.5 59.7)rotate(90)">qSD9.1</text></g>
<g id="q187" class="q m"><path d="M765 32.3V46.7"/><text transform="translate(767.5 39.5)rotate(90)">qFLL9.2</text></g>
<g id="q188" class="q g"><path d="M775 27.3V41.7"/><text transform="translate(777.5 34.5)rotate(90)">qMPD9.1</text></g>
<g id="q189" class="q k"><path d="M785 29.3V31.8"/><text transform="translate(787.5 25)rotate(90)">qPWP9.1</text></g>
<g id="q190" class="q k"><path d="M765 55V71.7"/><text transform="translate(767.5 63.4)rotate(90)">qMPL9.1</text></g>
<g id="q191" class="q g"><path d="M775 58.3V76.7"/><text transform="translate(777.5 67.5)rotate(90)">qGMS9.1</text></g>
<g id="q192" class="q k"><path d="M785 60V71.7"/><text transform="translate(787.5 65.9)rotate(90)">qFLW9.1</text></g>
<g id="q193" class="q k"><path d="M726 88.3V103.3"/><text transform="translate(728.5 95.8)rotate(90)">qSD9.2</text></g>
<g id="q194" class="q k"><path d="M736 88.3V93.3"/><text transform="translate(738.5 90.8)rotate(90)">qSMS9.1</text></g>
<g id="q195" class="q k"><path d="M746 85V88.3"/><text transform="translate(748.5 86.7)rotate(90)">qFLW9.2</text></g>
<g id="q196" class="q k"><path d="M746 104V108.3"/><text transform="translate(748.5 106)rotate(90)">qTN9.1</text></g>
<g id="q197" class="q k"><path d="M756 108.3V110.5"/><text transform="translate(758.5 110)rotate(90)">qGMSS9.2</text></g>
<g id="q198" class="q k"><path d="M756 135V137"/><text transform="translate(758.5 135)rotate(90)">qSMW9.3</text></g>
<g id="q199" class="q r"><path d="M726 131.7V151.7"/><text transform="translate(728.5 141.7)rotate(90)">qSD9.3</text></g>
<g id="q200" class="q k"><path d="M736 136.7V150"/><text transform="translate(738.5 143.4)rotate(90)">qMPW9.2</text></g>
<g id="q201" class="q k"><path d="M746 135V145"/><text transform="translate(748.5 140)rotate(90)">qLMS9.1</text></g>
<g id="q202" class="q k"><path d="M756 145V153.3"/><text transform="translate(758.5 149)rotate(90)">qPL9.2</text></g>
<g id="q203" class="q n"><path d="M765 146.7V168.3"/><text transform="translate(767.5 157.5)rotate(90)">qMPW9.1</text></g>
<g id="q204" class="q d"><path d="M775 146.7V166.7"/><text transform="translate(777.5 156.7)rotate(90)">qSMSS9.2</text></g>
<g id="q205" class="q r"><path d="M785 146.7V155"/><text transform="translate(787.5 148)rotate(90)">qMPL9.2</text></g>
<g id="q206" class="q r"><path d="M726 158.3V178.3"/><text transform="translate(728.5 168.3)rotate(90)">qLMS9.2</text></g>
<g id="q207" class="q k"><path d="M736 170V180"/><text transform="translate(738.5 175)rotate(90)">qFMW9.3</text></g>
<g id="q208" class="q k"><path d="M746 163.3V166.7"/><text transform="translate(748.5 165)rotate(90)">qSL9.2</text></g>
<g id="q209" class="q k"><path d="M726 196.7V210"/><text transform="translate(728.5 203.4)rotate(90)">qSD9.4</text></g>
<g id="q210" class="q o"><path d="M726 236.7V253.3"/><text transform="translate(728.5 245)rotate(90)">qLMS9.3</text></g>
<g id="q211" class="q k"><path d="M736 245V256.7"/><text transform="translate(738.5 250.9)rotate(90)">qPL9.3</text></g>
<g id="q212" class="q r"><path d="M746 250V256.7"/><text transform="translate(748.5 253.4)rotate(90)">qFP9.3</text></g>
<g id="q213" class="q k"><path d="M726 266.7V270"/><text transform="translate(728.5 271)rotate(90)">qSL9.1</text></g>
<g id="q214" class="q g"><path d="M736 268.3V286.7"/><text transform="translate(738.5 277.5)rotate(90)">qTGW9.1</text></g>
<g id="q215" class="q k"><path d="M746 270V285"/><text transform="translate(748.5 277.5)rotate(90)">qGMS9.4</text></g>
<g id="q216" class="q r"><path d="M756 280V288.3"/><text transform="translate(758.5 284.2)rotate(90)">qMPW9.3</text></g>
<g id="q217" class="q k"><path d="M765 283.3V290"/><text transform="translate(767.5 286.7)rotate(90)">qMPW9.4</text></g>
<g id="q218" class="q k"><path d="M775 284.3V288.3"/><text transform="translate(777.5 286.3)rotate(90)">qLMS9.4</text></g>
<g id="q219" class="q k"><path d="M785 281V284.3"/><text transform="translate(787.5 282)rotate(90)">qSMPL9.3</text></g>
<g id="q220" class="q k"><path d="M726 290V296.7"/><text transform="translate(728.5 293.4)rotate(90)">qPL9.4</text></g>
</g>

<g id="legend">
<text x="656" y="359.5" style="font:5px 'Liberation Sans',Arial,sans-serif;fill:#333">Env.</text>
<rect x="670.7" y="355" width="11.7" height="4.6" fill="#000"/>
<rect x="682.4" y="355" width="11.7" height="4.6" fill="#f01c1c"/>
<rect x="694.1" y="355" width="11.7" height="4.6" fill="#1f8f1f"/>
<rect x="705.8" y="355" width="11.7" height="4.6" fill="#00007f"/>
<rect x="717.5" y="355" width="11.7" height="4.6" fill="#929220"/>
<rect x="729.2" y="355" width="11.7" height="4.6" fill="#f0f"/>
<rect x="740.9" y="355" width="11.7" height="4.6" fill="#0e0"/>
<rect x="752.6" y="355" width="11.7" height="4.6" fill="#800000"/>
<rect x="764.3" y="355" width="11.7" height="4.6" fill="#2ff"/>
<text class="lg" x="676.5" y="351.5">I</text><text class="lg" x="688.2" y="351.5">II</text><text class="lg" x="699.9" y="351.5">III</text><text class="lg" x="711.6" y="351.5">IV</text><text class="lg" x="723.3" y="351.5">V</text><text class="lg" x="735" y="351.5">VI</text><text class="lg" x="746.7" y="351.5">VII</text><text class="lg" x="758.4" y="351.5">VIII</text><text class="lg" x="770.1" y="351.5">IX</text>
</g>
</svg>
